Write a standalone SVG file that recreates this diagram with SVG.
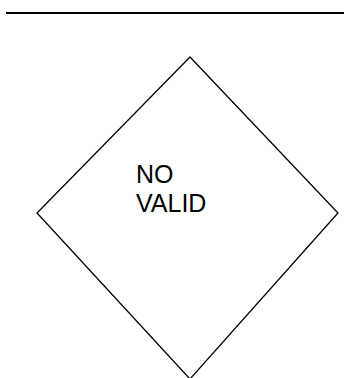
<svg xmlns="http://www.w3.org/2000/svg" width="344" height="378" viewBox="0 0 344 378">
<style>
.shape{fill:none;stroke:#000;stroke-width:1.3}
.lbl{font-family:"Liberation Sans",Arial,sans-serif;font-size:25px;fill:#000}
</style>
<rect width="344" height="378" fill="#fff"/>
<g id="connectors">
<line x1="6" y1="13" x2="344" y2="13" stroke="#000" stroke-width="2"/>
</g>
<g id="decision">
<polygon class="shape" points="190,57 338,213 190,379 37,213"/>
<text class="lbl" x="136" y="183">NO</text>
<text class="lbl" x="136" y="212">VALID</text>
</g>
</svg>
